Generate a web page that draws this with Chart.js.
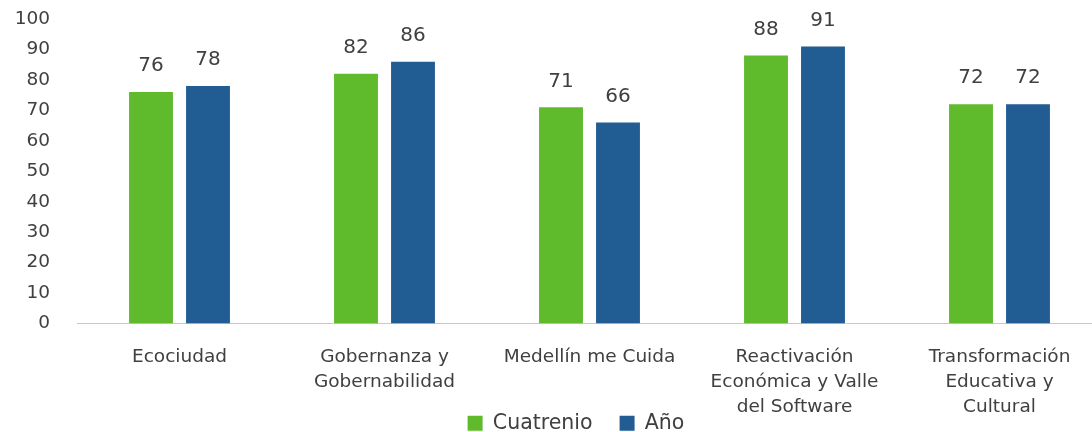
<!DOCTYPE html>
<html>
<head>
<meta charset="utf-8">
<script src="https://cdn.jsdelivr.net/npm/chart.js@4.4.0/dist/chart.umd.min.js"></script>
<style>
  html, body { margin: 0; padding: 0; background: #fff; overflow: hidden; }
  #wrap { position: relative; width: 1130px; height: 498px; }
</style>
</head>
<body>
<div id="wrap"><canvas id="chart"></canvas></div>
<script>
// categories (multi-line labels as in the original)
const categories = [
  ['Ecociudad'],
  ['Gobernanza y', 'Gobernabilidad'],
  ['Medellín me Cuida'],
  ['Reactivación', 'Económica y Valle', 'del Software'],
  ['Transformación', 'Educativa y', 'Cultural']
];
const cuatrenio = [76, 82, 71, 88, 72];
const anio = [78, 86, 66, 91, 72];
const yTicks = [0, 10, 20, 30, 40, 50, 60, 70, 80, 90, 100];

const textColor = '#404040';
const font = 'DejaVu Sans';

// draws the value above each bar
const valueLabels = {
  id: 'valueLabels',
  afterDatasetsDraw(chart) {
    const ctx = chart.ctx;
    ctx.save();
    ctx.fillStyle = textColor;
    ctx.font = '20px "' + font + '"';
    ctx.textAlign = 'center';
    ctx.textBaseline = 'middle';
    chart.data.datasets.forEach((ds, i) => {
      chart.getDatasetMeta(i).data.forEach((bar, j) => {
        ctx.fillText(ds.data[j], bar.x, bar.y - 26);
      });
    });
    ctx.restore();
  }
};

// the legend sits between the wrapped category labels, as in the original
const legendUp = {
  id: 'legendUp',
  afterLayout(chart) {
    const lg = chart.legend;
    if (!lg) return;
    const h = lg.height;
    lg.top = 386;
    lg.bottom = 386 + h;
    lg.left += 25;
    lg.right += 25;
  }
};

new Chart(document.getElementById('chart'), {
  type: 'bar',
  data: {
    labels: categories,
    datasets: [
      { label: 'Cuatrenio', data: cuatrenio, backgroundColor: '#5fba2c' },
      { label: 'Año', data: anio, backgroundColor: '#215d92' }
    ]
  },
  options: {
    responsive: true,
    maintainAspectRatio: false,
    animation: false,
    layout: { padding: { top: 19, right: 28, left: 0, bottom: 0 } },
    datasets: {
      bar: { categoryPercentage: 0.556, barPercentage: 0.77 }
    },
    scales: {
      x: {
        grid: { display: false, drawTicks: false },
        border: { display: true, color: '#c8c8c8', width: 1 },
        ticks: {
          color: textColor,
          font: { family: font, size: 18.5, lineHeight: 1.35 },
          padding: 21,
          maxRotation: 0,
          autoSkip: false
        }
      },
      y: {
        min: 0,
        max: 100,
        afterFit(scale) { scale.width = 77; },
        afterBuildTicks(scale) { scale.ticks = yTicks.map(v => ({ value: v })); },
        grid: { display: false, drawTicks: true, tickLength: 25 },
        border: { display: false },
        ticks: {
          color: textColor,
          font: { family: font, size: 18.5 },
          padding: 2,
          autoSkip: false
        }
      }
    },
    plugins: {
      legend: {
        position: 'bottom',
        labels: {
          color: textColor,
          font: { family: font, size: 20.5 },
          boxWidth: 15,
          boxHeight: 15,
          padding: 27
        }
      },
      tooltip: { enabled: false }
    }
  },
  plugins: [valueLabels, legendUp]
});
</script>
</body>
</html>
